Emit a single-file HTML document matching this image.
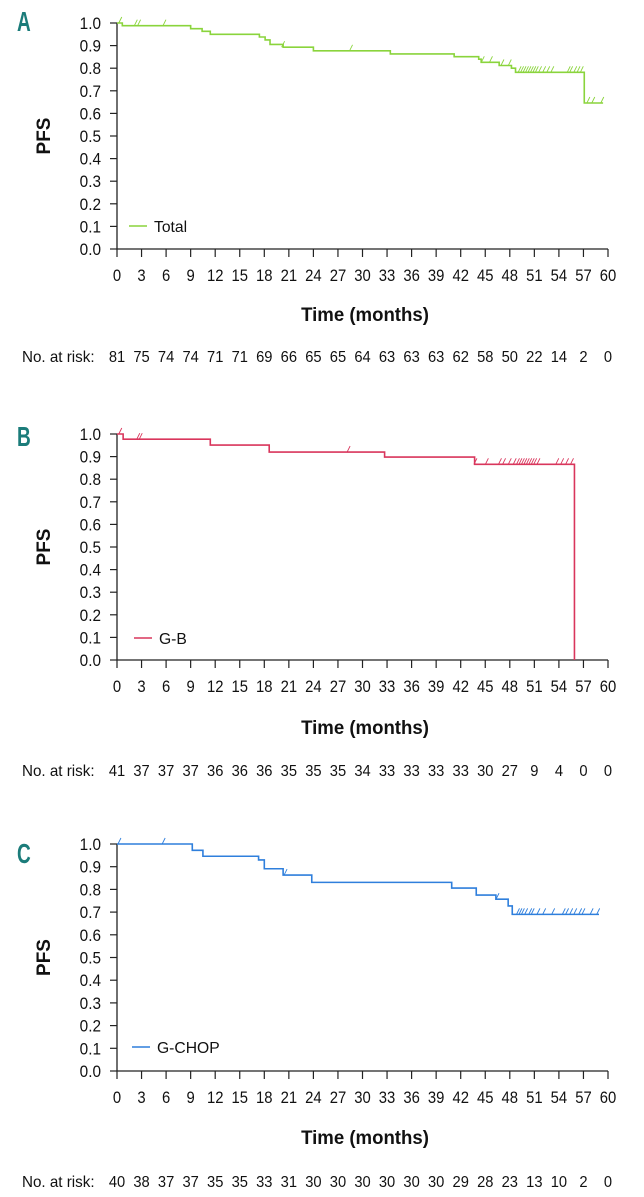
<!DOCTYPE html>
<html><head><meta charset="utf-8">
<style>
html,body{margin:0;padding:0;background:#fff;}
svg{display:block;font-family:"Liberation Sans",Arial,sans-serif;}
</style></head>
<body>
<svg id="chart" width="644" height="1197" viewBox="0 0 644 1197" xmlns="http://www.w3.org/2000/svg"></svg>
<script>
// ---- data ----
const xTicks = [0,3,6,9,12,15,18,21,24,27,30,33,36,39,42,45,48,51,54,57,60];
const yTicks = [0,0.1,0.2,0.3,0.4,0.5,0.6,0.7,0.8,0.9,1.0];

const totalTimes = [0,0.65,9.0,10.4,11.4,17.4,18.1,18.7,20.3,24.0,33.4,41.2,44.2,44.5,46.7,48.2,48.7,57.1,59.4];
const totalSurv  = [1.0,0.988,0.975,0.963,0.95,0.938,0.925,0.905,0.893,0.877,0.863,0.851,0.84,0.826,0.812,0.80,0.782,0.646,0.646];
const totalCens  = [0.4,2.3,2.7,5.8,20.3,28.6,44.7,45.7,47.1,48.0,49.2,49.5,49.8,50.1,50.4,50.7,51.0,51.3,51.7,52.2,52.7,53.2,55.2,55.5,56.0,56.4,56.8,57.6,58.2,59.3];
const totalRisk  = [81,75,74,74,71,71,69,66,65,65,64,63,63,63,62,58,50,22,14,2,0];

const gbTimes = [0,0.75,11.4,18.6,32.7,43.7,55.9];
const gbSurv  = [1.0,0.977,0.951,0.92,0.898,0.866,0];
const gbCens  = [0.4,2.6,2.9,28.3,43.8,45.2,46.8,47.3,48.0,48.6,49.0,49.3,49.6,49.9,50.2,50.5,50.8,51.1,51.5,53.8,54.4,55.0,55.6];
const gbRisk  = [41,37,37,37,36,36,36,35,35,35,34,33,33,33,33,30,27,9,4,0,0];

const gcTimes = [0,9.2,10.5,17.3,18.0,20.3,23.8,40.9,43.9,46.3,47.8,48.3,58.9];
const gcSurv  = [1.0,0.972,0.946,0.93,0.891,0.863,0.831,0.806,0.775,0.757,0.727,0.69,0.69];
const gcCens  = [0.3,5.7,20.6,46.5,49.0,49.3,49.6,50.0,50.5,50.8,51.5,52.2,53.3,54.6,55.0,55.5,56.0,56.6,57.0,58.0,58.8];
const gcRisk  = [40,38,37,37,35,35,33,31,30,30,30,30,30,30,29,28,23,13,10,2,0];

// ---- layout ----
const NS = "http://www.w3.org/2000/svg";
const svg = document.getElementById('chart');
const X0 = 117, X1 = 608;
function xs(m){ return X0 + (X1 - X0) * m / 60; }

function mk(tag, attrs, parent){
  const e = document.createElementNS(NS, tag);
  for (const k in attrs) e.setAttribute(k, attrs[k]);
  (parent || svg).appendChild(e);
  return e;
}
function txt(parent, x, y, s, size, weight, anchor, sx){
  const t = mk('text', {transform:`translate(${x},${y}) scale(${sx},1)`, 'font-size':size, 'font-weight':weight, 'text-anchor':anchor, fill:'#111'}, parent);
  t.textContent = s;
  return t;
}

const panels = [
  {letter:'A', yTop:23, yBot:249, color:'#8ad43c', legend:'Total', times:totalTimes, surv:totalSurv, cens:totalCens, risk:totalRisk, legY:226, legX:129, titleY:321, riskY:362, letterY:31, lname:'total'},
  {letter:'B', yTop:434, yBot:660, color:'#d9365c', legend:'G-B', times:gbTimes, surv:gbSurv, cens:gbCens, risk:gbRisk, legY:638, legX:134, titleY:734, riskY:776, letterY:446, lname:'g-b'},
  {letter:'C', yTop:844, yBot:1071, color:'#2f7fdc', legend:'G-CHOP', times:gcTimes, surv:gcSurv, cens:gcCens, risk:gcRisk, legY:1047, legX:132, titleY:1144, riskY:1187, letterY:863, lname:'g-chop'}
];

panels.forEach(p => {
  const g = mk('g', {});
  
  
  const ys = v => p.yBot - (p.yBot - p.yTop) * v;

  const L = txt(g, 17, p.letterY, p.letter, 28, 'bold', 'start', 0.68);
  L.setAttribute('fill', '#1b7c7a');
  
  

  const ax = mk('path', {d:`M${X0},${ys(1)}V${p.yBot}H${X1}`, stroke:'#222', 'stroke-width':1.3, fill:'none'}, g);
  
  

  yTicks.forEach(v => {
    mk('line', {x1:X0-7, x2:X0, y1:ys(v), y2:ys(v), stroke:'#222', 'stroke-width':1.2}, g);
    const t = txt(g, 101, ys(v)+6, v.toFixed(1), 16.5, 'normal', 'end', 0.93);
    
    
  });
  xTicks.forEach((m, i) => {
    mk('line', {x1:xs(m), x2:xs(m), y1:p.yBot, y2:p.yBot+8, stroke:'#222', 'stroke-width':1.2}, g);
    const t = txt(g, xs(m), p.yBot+32, String(m), 16.5, 'normal', 'middle', 0.9);
    
    
    const r = txt(g, xs(m), p.riskY, String(p.risk[i]), 16, 'normal', 'middle', 0.92);
    
    
  });
  const nr = txt(g, 22, p.riskY, 'No. at risk:', 16, 'normal', 'start', 0.95);
  
  

  const yl = mk('text', {transform:`translate(50,${(p.yTop+p.yBot)/2}) rotate(-90)`, 'font-size':19, 'font-weight':'bold', 'text-anchor':'middle', fill:'#111'}, g);
  yl.textContent = 'PFS';
  
  

  const xt = txt(g, 365, p.titleY, 'Time (months)', 19, 'bold', 'middle', 0.98);
  
  

  let d = `M${xs(p.times[0])},${ys(p.surv[0])}`;
  for (let i = 1; i < p.times.length; i++){
    d += `H${xs(p.times[i])}V${ys(p.surv[i])}`;
  }
  const c = mk('path', {d, stroke:p.color, 'stroke-width':1.6, fill:'none'}, g);
  
  

  function survAt(m){
    let s = p.surv[0];
    for (let i = 0; i < p.times.length; i++){ if (p.times[i] <= m) s = p.surv[i]; }
    return s;
  }
  p.cens.forEach(m => {
    const y = ys(survAt(m));
    const cm = mk('line', {x1:xs(m)-1.5, x2:xs(m)+1.5, y1:y, y2:y-6, stroke:p.color, 'stroke-width':0.9}, g);
    
    
  });

  const lg = mk('g', {}, g);
  
  
  mk('line', {x1:p.legX, x2:p.legX+18, y1:p.legY, y2:p.legY, stroke:p.color, 'stroke-width':1.6}, lg);
  txt(lg, p.legX+25, p.legY+6, p.legend, 16, 'normal', 'start', 0.98);
});
</script>
</body></html>
